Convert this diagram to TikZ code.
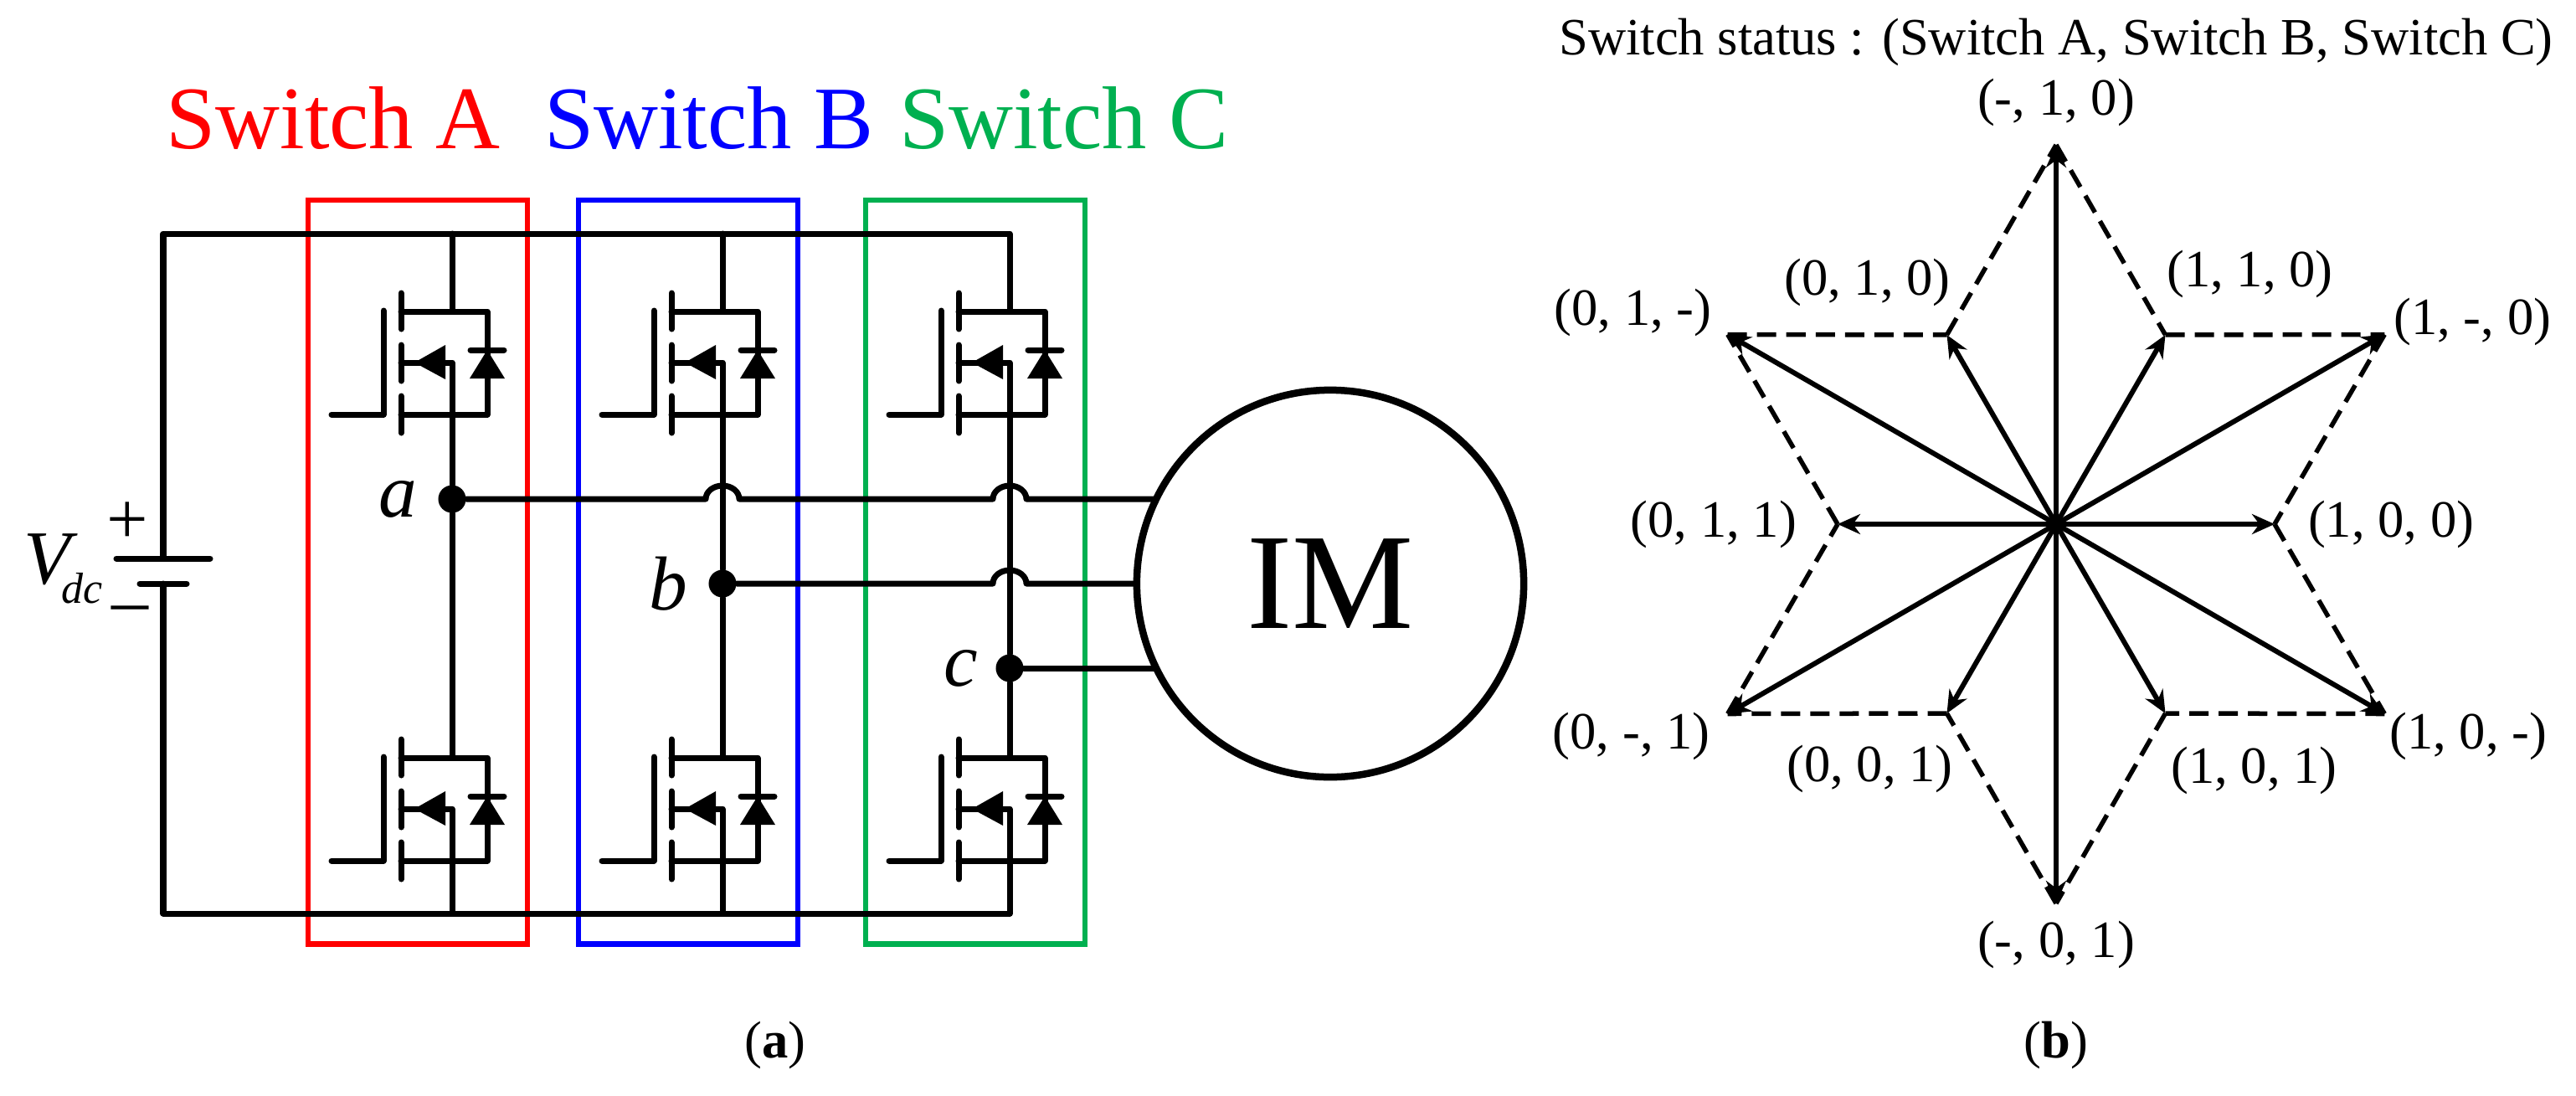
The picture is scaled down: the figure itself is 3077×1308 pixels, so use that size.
\documentclass[tikz,border=0pt]{standalone}
\usepackage{fontspec}
\setmainfont{Liberation Serif}
\usetikzlibrary{positioning, arrows.meta, calc}
\definecolor{swgreen}{RGB}{0,176,80}
\tikzset{
	>={Stealth[length=0.27cm,width=0.24cm]}, % arrow heads of the star
	wire/.style={line width=0.07cm, line join=round, line cap=round},
	swbox/.style={draw, line width=0.065cm, minimum width=2.62cm, minimum height=8.88cm, inner sep=0pt},
	swlabel/.style={font=\fontsize{30.3}{32}\selectfont, inner sep=0pt},
	junction/.style={circle, fill=black, minimum size=0.33cm, inner sep=0pt},
	phase/.style={font=\fontsize{26}{28}\selectfont\itshape, inner sep=0pt},
	state/.style={font=\fontsize{17.8}{20}\selectfont, inner sep=0pt}, % switch status labels
	vertex/.style={inner sep=0pt, outer sep=0pt, minimum size=0pt},
	spoke/.style={->, line width=0.06cm},
	rim/.style={line width=0.055cm, dash pattern=on 0.23cm off 0.12cm},
	pics/mos/.style={code={
		\coordinate (-d) at (0,0);
		\coordinate (-s) at (0,123);
		% channel, gate and body
		\draw[wire] (-61,-22) -- (-61,21);
		\draw[wire] (-61,40) -- (-61,83);
		\draw[wire] (-61,101) -- (-61,145);
		\draw[wire] (-82,-1) -- (-82,123) -- (-144,123);
		\draw[wire] (-61,61) -- (0,61) -- (-s);
		\fill (-45,61) -- (-8,40) -- (-8,81) -- cycle;
		% drain, source and diode
		\draw[wire] (-61,0) -- (42,0) -- (42,123) -- (-61,123);
		\draw[wire] (22,46) -- (62,46);
		\fill (42,46) -- (63,80) -- (21,80) -- cycle;
	}},
}
\begin{document}
\begin{tikzpicture}[x=0.01cm, y=-0.01cm, on grid]
	\useasboundingbox (0,0) rectangle (3077,1308);
	
	% Switch legs
	\node[swbox, draw=red] (boxa) at (499,683) {};
	\node[swbox, draw=blue] (boxb) at (822,683) {};
	\node[swbox, draw=swgreen] (boxc) at (1165,683) {};
	\pic (qa1) at (540,372) {mos};
	\pic (qa2) at (540,905) {mos};
	\pic (qb1) at (863,372) {mos};
	\pic (qb2) at (863,905) {mos};
	\pic (qc1) at (1206,372) {mos};
	\pic (qc2) at (1206,905) {mos};
	\node[swlabel, text=red] (swa) at (398,141) {Switch A};
	\node[swlabel, text=blue] (swb) at (847,141) {Switch B};
	\node[swlabel, text=swgreen] (swc) at (1271,141) {Switch C};
	
	% Battery and rails
	\coordinate (pos) at (195,667);
	\coordinate (neg) at (195,697);
	\coordinate (rt) at (1206,279);
	\coordinate (rb) at (1206,1091);
	\draw[wire] (pos) |- (rt) -- (qc1-d);
	\draw[wire] (neg) |- (rb) -- (qc2-s);
	\draw[wire] ($(pos)+(-56,0)$) -- ($(pos)+(56,0)$);
	\draw[wire] ($(neg)+(-28,0)$) -- ($(neg)+(28,0)$);
	\draw[wire] (qa1-d |- rt) -- (qa1-d);
	\draw[wire] (qb1-d |- rt) -- (qb1-d);
	\draw[wire] (qa2-s) -- (qa2-s |- rb);
	\draw[wire] (qb2-s) -- (qb2-s |- rb);
	\node[font=\fontsize{25}{28}\selectfont, inner sep=0pt] (plus) at (152,625) {+};
	\node[font=\fontsize{25}{28}\selectfont, inner sep=0pt] (minus) at (155,735) {–};
	\node[phase, anchor=base west] (vdc) at (28,697) {V\kern-0.11cm\raisebox{-0.23cm}{\fontsize{14.8}{16}\selectfont dc}};
	
	% Midpoints and machine
	\node[junction] (a) at (540,596) {};
	\node[junction] (b) at (863,697) {};
	\node[junction] (c) at (1206,798) {};
	\node[phase, left=0.65cm of a] (la) {a};
	\node[phase, left=0.65cm of b] (lb) {b};
	\node[phase, left=0.58cm of c] (lc) {c};
	\node[circle, draw, line width=0.085cm, minimum size=4.62cm, inner sep=0pt, outer sep=0pt, font=\fontsize{46.4}{48}\selectfont] (IM) at (1589,697) {IM};
	\draw[wire] (qa1-s) -- (a) -- (qa2-d);
	\draw[wire] (qb1-s) -- (b) -- (qb2-d);
	\draw[wire] (qc1-s) -- (c) -- (qc2-d);
	\draw[wire] (a) -- (843,596) arc [start angle=180, end angle=360, x radius=20, y radius=16]
		-- (1186,596) arc [start angle=180, end angle=360, x radius=20, y radius=16] -- (IM.154 |- a);
	\draw[wire] (b) -- (1186,697) arc [start angle=180, end angle=360, x radius=20, y radius=16] -- (IM.west |- b);
	\draw[wire] (c) -- (IM.206 |- c);
	\node[state] (capa) at (926,1248) {(\textbf{a})};
	
	% Switching states
	\coordinate (O) at (2456,626);
	\foreach \k in {0,...,5} {
		\node[vertex] (in\k) at ($(O)+(60*\k:261)$) {};
		\node[vertex] (out\k) at ($(O)+(30+60*\k:453)$) {};
	}
	\foreach \p/\q in {in0/out0,out0/in1,in1/out1,out1/in2,in2/out2,out2/in3,in3/out3,out3/in4,in4/out4,out4/in5,in5/out5,out5/in0} {
		\draw[rim] (\p) -- (\q);
	}
	\foreach \k in {0,...,5} {
		\draw[spoke] (O) -- (in\k);
		\draw[spoke] (O) -- (out\k);
	}
	\node[state, right=1.39cm of in0] (s100) {(1, 0, 0)};
	\node[state, below right=0.27cm and 1.00cm of out0] (s10n) {(1, 0, -)};
	\node[state, below right=0.68cm and 1.06cm of in1] (s101) {(1, 0, 1)};
	\node[state, below=0.49cm of out1] (sn01) {(-, 0, 1)};
	\node[state, below left=0.66cm and 0.92cm of in2] (s001) {(0, 0, 1)};
	\node[state, below left=0.27cm and 1.15cm of out2] (s0n1) {(0, -, 1)};
	\node[state, left=1.48cm of in3] (s011) {(0, 1, 1)};
	\node[state, above left=0.26cm and 1.13cm of out3] (s01n) {(0, 1, -)};
	\node[state, above left=0.62cm and 0.95cm of in4] (s010) {(0, 1, 0)};
	\node[state, above=0.51cm of out4] (sn10) {(-, 1, 0)};
	\node[state, above right=0.72cm and 1.01cm of in5] (s110) {(1, 1, 0)};
	\node[state, above right=0.15cm and 1.05cm of out5] (s1n0) {(1, -, 0)};
	\node[state] (title) at (2456,50) {Switch status : (Switch A, Switch B, Switch C)};
	\node[state] (capb) at (2456,1248) {(\textbf{b})};
\end{tikzpicture}
\end{document}
